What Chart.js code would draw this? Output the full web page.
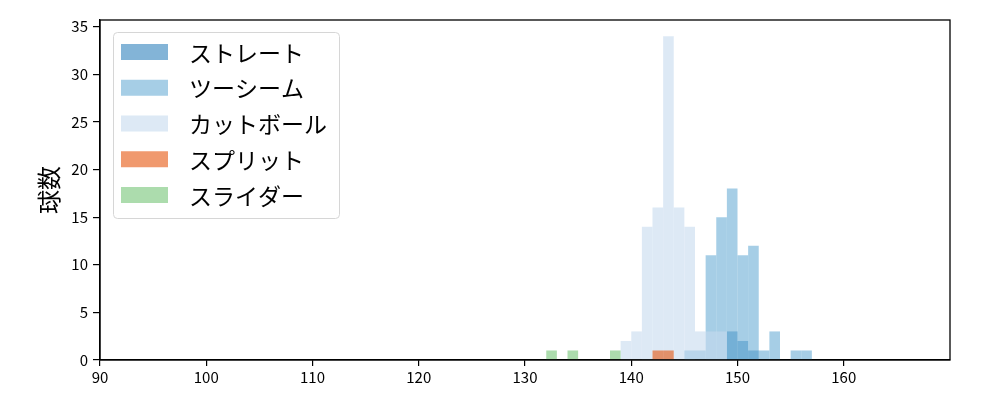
<!DOCTYPE html>
<html>
<head>
<meta charset="utf-8">
<script src="https://cdn.jsdelivr.net/npm/chart.js@4/dist/chart.umd.min.js"></script>
<style>
  html, body { margin: 0; padding: 0; background: #fff; }
  #wrap { width: 1000px; height: 400px; }
</style>
</head>
<body>
<div id="wrap"><canvas id="chart" width="1000" height="400"></canvas></div>
<script>
  // pitch speed histogram, bins of 1 km/h (bin centre = left edge + 0.5)
  const pitchNames = ["ストレート", "ツーシーム", "カットボール", "スプリット", "スライダー"];

  const straightBins = [149, 150, 151];
  const straightCounts = [3, 2, 1];

  const twoSeamBins = [145, 146, 147, 148, 149, 150, 151, 152, 153, 155, 156];
  const twoSeamCounts = [1, 1, 11, 15, 18, 11, 12, 1, 3, 1, 1];

  const cutterBins = [139, 140, 141, 142, 143, 144, 145, 146, 147, 148];
  const cutterCounts = [2, 3, 14, 16, 34, 16, 14, 3, 3, 3];

  const splitBins = [142, 143];
  const splitCounts = [1, 1];

  const sliderBins = [132, 134, 138];
  const sliderCounts = [1, 1, 1];

  const xTicks = [90, 100, 110, 120, 130, 140, 150, 160];
  const yTicks = [0, 5, 10, 15, 20, 25, 30, 35];

  const colors = [
    "rgba(49,130,189,0.6)",
    "rgba(107,174,214,0.6)",
    "rgba(198,219,239,0.6)",
    "rgba(230,85,13,0.6)",
    "rgba(116,196,118,0.6)",
  ];

  function toPoints(bins, counts) {
    return bins.map((b, i) => ({ x: b + 0.5, y: counts[i] }));
  }

  const FONT = "'Noto Sans CJK JP', 'Noto Sans', sans-serif";
  Chart.defaults.font.family = FONT;
  Chart.defaults.color = "#000";

  const frame = {
    id: "frame",
    afterDraw(chart) {
      const { ctx, chartArea: a } = chart;
      ctx.save();
      ctx.strokeStyle = "#000";
      ctx.lineWidth = 1.3;
      ctx.strokeRect(a.left, a.top, a.right - a.left, a.bottom - a.top);
      ctx.restore();
    },
  };

  const boxLegend = {
    id: "boxLegend",
    afterDraw(chart) {
      const { ctx } = chart;
      const x0 = 113, y0 = 32, w = 226, h = 186;
      ctx.save();
      ctx.fillStyle = "rgba(255,255,255,0.8)";
      ctx.strokeStyle = "#d6d6d6";
      ctx.lineWidth = 1;
      ctx.beginPath();
      ctx.roundRect(x0 + 0.5, y0 + 0.5, w, h, 4);
      ctx.fill();
      ctx.stroke();
      ctx.font = "23px " + FONT;
      ctx.textBaseline = "middle";
      ctx.textAlign = "left";
      chart.data.datasets.forEach((ds, i) => {
        const cy = 52 + i * 35.75;
        ctx.fillStyle = ds.backgroundColor;
        ctx.fillRect(121, cy - 8, 47, 16);
        ctx.fillStyle = "#000";
        ctx.fillText(ds.label, 189, cy + 1);
      });
      ctx.restore();
    },
  };

  const series = [
    [straightBins, straightCounts],
    [twoSeamBins, twoSeamCounts],
    [cutterBins, cutterCounts],
    [splitBins, splitCounts],
    [sliderBins, sliderCounts],
  ];

  new Chart(document.getElementById("chart"), {
    type: "bar",
    data: {
      datasets: series.map((s, i) => ({
        label: pitchNames[i],
        data: toPoints(s[0], s[1]),
        backgroundColor: colors[i],
        borderWidth: 0,
        inflateAmount: 0,
        grouped: false,
        barPercentage: 1,
        categoryPercentage: 1,
        // later series are drawn on top
        order: series.length - i,
      })),
    },
    options: {
      responsive: false,
      animation: false,
      devicePixelRatio: 1,
      layout: { padding: { top: 20, right: 50, left: 0, bottom: 0 } },
      plugins: {
        legend: { display: false },
        tooltip: { enabled: false },
      },
      scales: {
        x: {
          type: "linear",
          min: 90,
          max: 170,
          offset: false,
          afterBuildTicks: (s) => { s.ticks = xTicks.map((v) => ({ value: v })); },
          afterFit: (s) => { s.height = 40; },
          ticks: { font: { size: 15 }, color: "#000", padding: 2, maxRotation: 0 },
          grid: { offset: false, drawOnChartArea: false, drawTicks: true, tickLength: 6, color: "#000", lineWidth: 1.2 },
          border: { display: true, color: "#000", width: 1.3 },
        },
        y: {
          min: 0,
          max: 35.7,
          afterBuildTicks: (s) => { s.ticks = yTicks.map((v) => ({ value: v })); },
          afterFit: (s) => { s.width = 100; },
          ticks: { font: { size: 15 }, color: "#000", padding: 5 },
          grid: { drawOnChartArea: false, drawTicks: true, tickLength: 7, color: "#000", lineWidth: 1.2 },
          border: { display: true, color: "#000", width: 1.3 },
          title: {
            display: true,
            text: "球数",
            font: { size: 24 },
            color: "#000",
            padding: { top: 34, bottom: 0 },
          },
        },
      },
    },
    plugins: [frame, boxLegend],
  });
</script>
</body>
</html>
